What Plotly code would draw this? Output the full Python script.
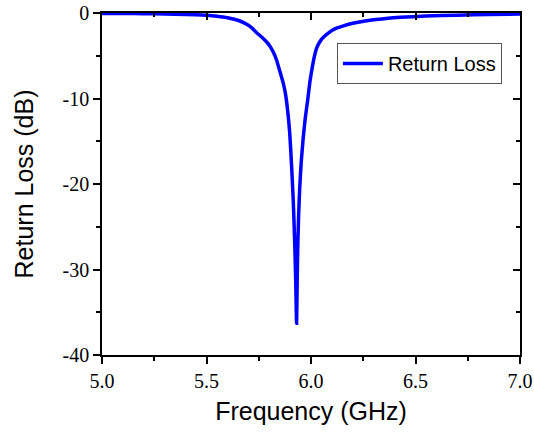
import plotly.graph_objects as go

freq = [5.0, 5.1, 5.2, 5.3, 5.4, 5.5, 5.55, 5.6, 5.65, 5.68, 5.71, 5.74, 5.77, 5.79,
        5.804, 5.82, 5.835, 5.852, 5.865, 5.876, 5.885, 5.892, 5.898, 5.903, 5.909,
        5.915, 5.919, 5.923, 5.927, 5.931, 5.934, 5.937, 5.941, 5.946, 5.953, 5.962,
        5.972, 5.984, 5.995, 6.005, 6.016, 6.027, 6.04, 6.055, 6.075, 6.1, 6.125,
        6.155, 6.2, 6.266, 6.34, 6.426, 6.55, 6.7, 6.85, 7.0]
rl = [-0.05, -0.06, -0.08, -0.11, -0.17, -0.27, -0.38, -0.55, -0.85, -1.15, -1.6,
      -2.3, -2.95, -3.45, -3.9, -4.6, -5.5, -6.9, -8.0, -9.2, -10.7, -12.3, -14.0,
      -16.0, -18.8, -21.9, -24.6, -27.7, -31.5, -36.3, -31.0, -27.0, -23.5, -20.5,
      -17.5, -14.8, -12.4, -10.2, -8.0, -6.5, -5.1, -4.1, -3.45, -2.95, -2.5, -2.05,
      -1.75, -1.5, -1.2, -0.9, -0.7, -0.5, -0.36, -0.25, -0.17, -0.12]

x_range = [5.0, 7.0]
y_range = [-40, 0]
x_ticks = [5.0, 5.5, 6.0, 6.5, 7.0]
x_ticklabels = ["5.0", "5.5", "6.0", "6.5", "7.0"]
y_ticks = [-40, -30, -20, -10, 0]
y_ticklabels = ["-40", "-30", "-20", "-10", "0"]

fig = go.Figure()
fig.add_trace(go.Scatter(x=freq, y=rl, mode="lines", name="Return Loss",
                         line=dict(color="#0000FF", width=3.5, shape="spline",
                                   smoothing=0.4)))
# helper trace for the mirrored top/right axes (invisible)
fig.add_trace(go.Scatter(x=freq, y=rl, mode="lines", xaxis="x2", yaxis="y2",
                         line=dict(width=0), opacity=0, showlegend=False,
                         hoverinfo="skip"))

tickfont = dict(family="Times New Roman", size=20, color="black")
titlefont = dict(family="Arial", size=25, color="black")

fig.update_layout(
    width=534, height=435,
    margin=dict(l=102, r=14, t=13, b=80, autoexpand=False),
    paper_bgcolor="white", plot_bgcolor="white",
    showlegend=True,
    legend=dict(x=0.562, y=0.912, xanchor="left", yanchor="top",
                bordercolor="#555555", borderwidth=1, bgcolor="white",
                font=dict(family="Arial", size=20, color="black"),
                itemwidth=40, tracegroupgap=0),
    xaxis=dict(range=x_range, tickvals=x_ticks, ticktext=x_ticklabels,
               automargin=False,
               showgrid=False, zeroline=False, showline=True, linecolor="black",
               linewidth=1.5, ticks="outside", ticklen=7, tickwidth=1.5,
               tickcolor="black", tickfont=tickfont,
               minor=dict(ticks="outside", dtick=0.25, ticklen=4, tickwidth=1.5,
                          tickcolor="black", showgrid=False),
               title=dict(text="Frequency (GHz)", font=titlefont, standoff=12)),
    yaxis=dict(range=y_range, tickvals=y_ticks, ticktext=y_ticklabels,
               automargin=False,
               showgrid=False, zeroline=False, showline=True, linecolor="black",
               linewidth=1.5, ticks="outside", ticklen=7, tickwidth=1.5,
               tickcolor="black", tickfont=tickfont,
               minor=dict(ticks="outside", dtick=5, ticklen=4, tickwidth=1.5,
                          tickcolor="black", showgrid=False),
               title=dict(text="Return Loss (dB)", font=titlefont, standoff=22)),
    xaxis2=dict(range=x_range, overlaying="x", side="top", anchor="y",
                automargin=False,
                tickvals=x_ticks, showticklabels=False, showgrid=False,
                zeroline=False, showline=True, linecolor="black", linewidth=1.5,
                ticks="inside", ticklen=7, tickwidth=1.5, tickcolor="black",
                minor=dict(ticks="inside", dtick=0.25, ticklen=4, tickwidth=1.5,
                           tickcolor="black", showgrid=False)),
    yaxis2=dict(range=y_range, overlaying="y", side="right", anchor="x",
                automargin=False,
                tickvals=y_ticks, showticklabels=False, showgrid=False,
                zeroline=False, showline=True, linecolor="black", linewidth=1.5,
                ticks="inside", ticklen=7, tickwidth=1.5, tickcolor="black",
                minor=dict(ticks="inside", dtick=5, ticklen=4, tickwidth=1.5,
                           tickcolor="black", showgrid=False)),
)

fig.write_html("out.html")
